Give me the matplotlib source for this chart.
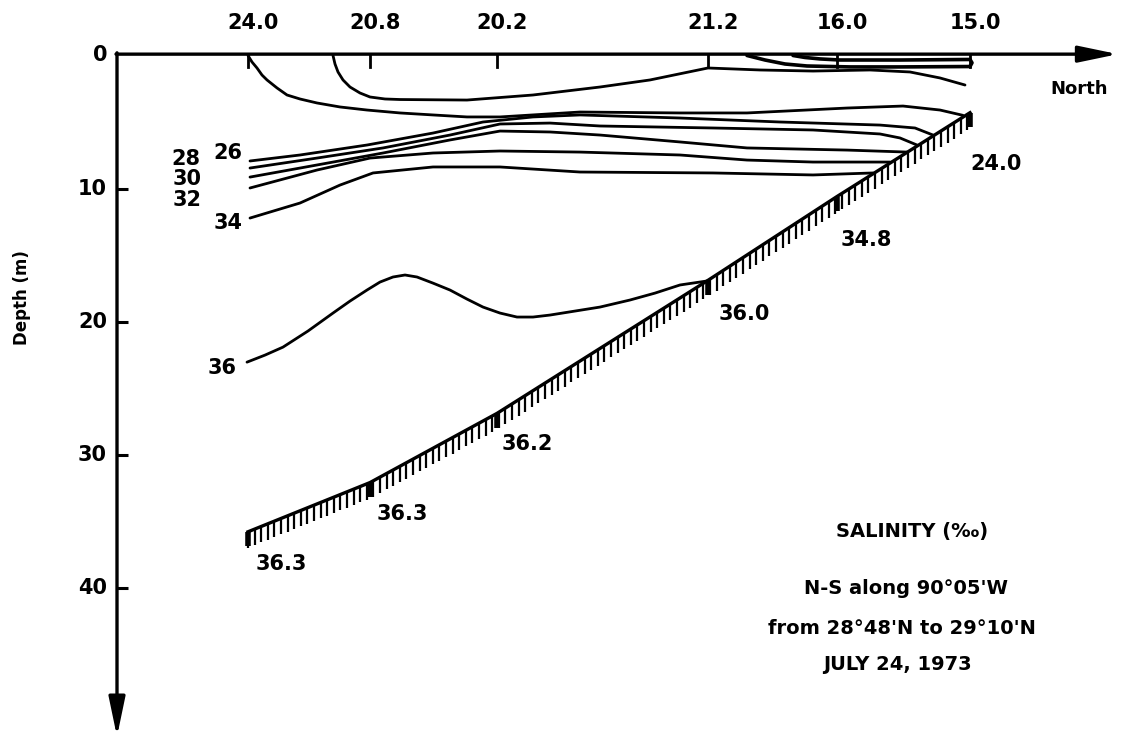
import numpy as np
import matplotlib.pyplot as plt
from matplotlib.collections import LineCollection

plt.rcParams['font.family'] = ['DejaVu Sans']
plt.rcParams['font.weight'] = 'bold'

# stations along the N-S section (x = distance along section, arbitrary units)
station_x = [13.1, 25.3, 38.0, 59.1, 72.0, 85.3]
surface_salinity = ['24.0', '20.8', '20.2', '21.2', '16.0', '15.0']
bottom_depth = [35.8, 32.1, 26.9, 16.9, 10.6, 4.3]
bottom_salinity = ['36.3', '36.3', '36.2', '36.0', '34.8', '24.0']

depth_ticks = [0, 10, 20, 30, 40]

# isohalines: distance and depth (m)
iso18_x = [67.6, 68.8, 70.3, 72.3, 78.3, 85.3, 85.5, 85.3]
iso18_d = [0.0, 0.15, 0.26, 0.34, 0.34, 0.30, 0.55, 0.83]
iso20_x = [63.0, 64.8, 66.8, 69.0, 73.3, 78.3, 85.3]
iso20_d = [0.0, 0.34, 0.64, 0.79, 0.86, 0.86, 0.83]
iso22_x = [21.6, 21.8, 22.1, 22.6, 23.3, 24.3, 25.3, 26.8, 28.3, 35.0, 41.6, 48.3,
           53.3, 59.1, 64.3, 69.6, 75.3, 79.3, 82.3, 84.8]
iso22_d = [0.0, 0.64, 1.24, 1.84, 2.37, 2.82, 3.12, 3.27, 3.31, 3.35, 2.97, 2.37,
           1.84, 0.94, 1.09, 1.17, 1.09, 1.24, 1.69, 2.22]
iso24_x = [13.1, 13.5, 14.0, 14.5, 15.0, 16.0, 17.0, 18.3, 20.0, 22.3, 25.0, 28.3,
           31.6, 35.0, 38.3, 46.3, 56.3, 63.0, 73.0, 78.6, 82.3, 84.6]
iso24_d = [0.0, 0.49, 0.94, 1.47, 1.84, 2.44, 2.97, 3.27, 3.57, 3.87, 4.10, 4.32,
           4.47, 4.62, 4.62, 4.25, 4.32, 4.32, 3.95, 3.80, 4.10, 4.5]
iso26_x = [13.3, 18.3, 25.0, 31.6, 36.6, 41.6, 46.3, 56.3, 66.3, 76.3, 79.8, 81.6]
iso26_d = [7.93, 7.48, 6.73, 5.83, 5.0, 4.62, 4.47, 4.70, 5.0, 5.23, 5.45, 5.98]
iso28_x = [13.3, 20.0, 26.6, 33.3, 38.3, 43.3, 48.3, 59.6, 69.6, 76.3, 78.3, 80.0]
iso28_d = [8.46, 7.71, 6.95, 5.98, 5.15, 5.08, 5.30, 5.45, 5.60, 5.90, 6.20, 6.73]
iso30_x = [13.3, 20.0, 26.6, 33.3, 38.3, 43.3, 48.3, 56.3, 63.0, 73.0, 79.0]
iso30_d = [9.14, 8.23, 7.33, 6.35, 5.68, 5.75, 5.98, 6.50, 6.95, 7.11, 7.26]
iso32_x = [13.3, 20.0, 25.3, 31.6, 38.3, 46.3, 56.3, 63.0, 69.6, 77.3]
iso32_d = [9.96, 8.61, 7.71, 7.33, 7.18, 7.26, 7.48, 7.86, 8.01, 8.01]
iso34_x = [13.3, 18.3, 22.3, 25.6, 31.6, 38.3, 46.3, 59.6, 69.6, 75.6]
iso34_d = [12.22, 11.09, 9.74, 8.83, 8.38, 8.38, 8.76, 8.83, 8.98, 8.83]
iso36_x = [13.0, 14.8, 16.6, 19.1, 21.6, 23.3, 25.0, 26.3, 27.6, 28.8, 30.0, 31.6, 33.3,
           35.0, 36.6, 38.3, 40.0, 41.6, 43.3, 45.8, 48.3, 51.3, 53.8, 56.3, 59.0]
iso36_d = [23.05, 22.52, 21.92, 20.71, 19.36, 18.46, 17.63, 17.03, 16.65, 16.50, 16.65,
           17.11, 17.63, 18.31, 18.91, 19.36, 19.66, 19.66, 19.51, 19.21, 18.91, 18.38,
           17.86, 17.25, 16.95]

isohalines = [(iso18_x, iso18_d), (iso20_x, iso20_d), (iso22_x, iso22_d),
              (iso24_x, iso24_d), (iso26_x, iso26_d), (iso28_x, iso28_d),
              (iso30_x, iso30_d), (iso32_x, iso32_d), (iso34_x, iso34_d),
              (iso36_x, iso36_d)]

# labels at the left ends of the isohalines
iso_labels = ['26', '28', '30', '32', '34', '36']
iso_label_pos = [(11.1, 7.3), (6.9, 7.8), (7.0, 9.3), (7.0, 10.9), (11.1, 12.6), (10.5, 23.5)]
# offsets (points) of bottom salinity labels from the bottom points
bottom_label_offsets = [(24, -23), (23, -23), (22, -22), (26, -24), (21, -31), (19, -37)]

fig = plt.figure(figsize=(11.33, 7.38), dpi=100)
ax = fig.add_axes([0, 0, 1, 1])
ax.set_xlim(-11.7, 101.6)
ax.set_ylim(51.3, -4.17)
ax.axis('off')

# axes drawn as arrows
arrow = dict(arrowstyle='-|>,head_length=1.2,head_width=0.25', lw=2.4, color='black',
             shrinkA=0, shrinkB=0, mutation_scale=20)
ax.annotate('', xy=(100.1, -0.1), xytext=(-0.1, -0.1), arrowprops=arrow)
ax.annotate('', xy=(0, 51.2), xytext=(0, -0.2), arrowprops=arrow)
ax.text(96.2, 2.5, 'North', ha='center', va='center', fontsize=13)

for d in depth_ticks:
    if d > 0:
        ax.plot([0, 1.1], [d, d], color='black', lw=2.2, solid_capstyle='butt')
    ax.text(-1.0, d, str(d), ha='right', va='center', fontsize=15)
ax.text(-9.5, 18.2, 'Depth (m)', rotation=90, ha='center', va='center', fontsize=12)

# stations on the surface
for sx, s in zip(station_x, surface_salinity):
    ax.plot([sx, sx], [0, 0.9], color='black', lw=2.0)
    ax.text(sx + 0.5, -2.45, s, ha='center', va='center', fontsize=15)

# isohalines
for i, (xs, ds) in enumerate(isohalines):
    ax.plot(xs, ds, color='black', lw=2.6 if i < 2 else 2.0,
            solid_joinstyle='round', solid_capstyle='round')
for lab, (lx, ly) in zip(iso_labels, iso_label_pos):
    ax.text(lx, ly, lab, ha='center', va='center', fontsize=15)

# sea bottom with hatching
ax.plot(station_x, bottom_depth, color='black', lw=2.4, solid_joinstyle='round')
hx = np.arange(station_x[0], station_x[-1], 0.66)
hy = np.interp(hx, station_x, bottom_depth)
segs = [[(x, y), (x, y + 1.2)] for x, y in zip(hx, hy)]
ax.add_collection(LineCollection(segs, colors='black', linewidths=1.6))
for sx, bd, s, off in zip(station_x, bottom_depth, bottom_salinity, bottom_label_offsets):
    ax.plot([sx, sx], [bd, bd + 1.1], color='black', lw=4, solid_capstyle='butt')
    ax.annotate(s, xy=(sx, bd), xytext=off, textcoords='offset points',
                ha='center', va='center', fontsize=15)

# title block
ax.text(79.5, 35.75, 'SALINITY (‰)', ha='center', va='center', fontsize=14)
ax.text(78.9, 40.1, "N-S along 90°05'W", ha='center', va='center', fontsize=14)
ax.text(78.5, 43.1, "from 28°48'N to 29°10'N", ha='center', va='center', fontsize=14)
ax.text(78.0, 45.8, 'JULY 24, 1973', ha='center', va='center', fontsize=14)

fig.savefig('out.png', dpi=100)
